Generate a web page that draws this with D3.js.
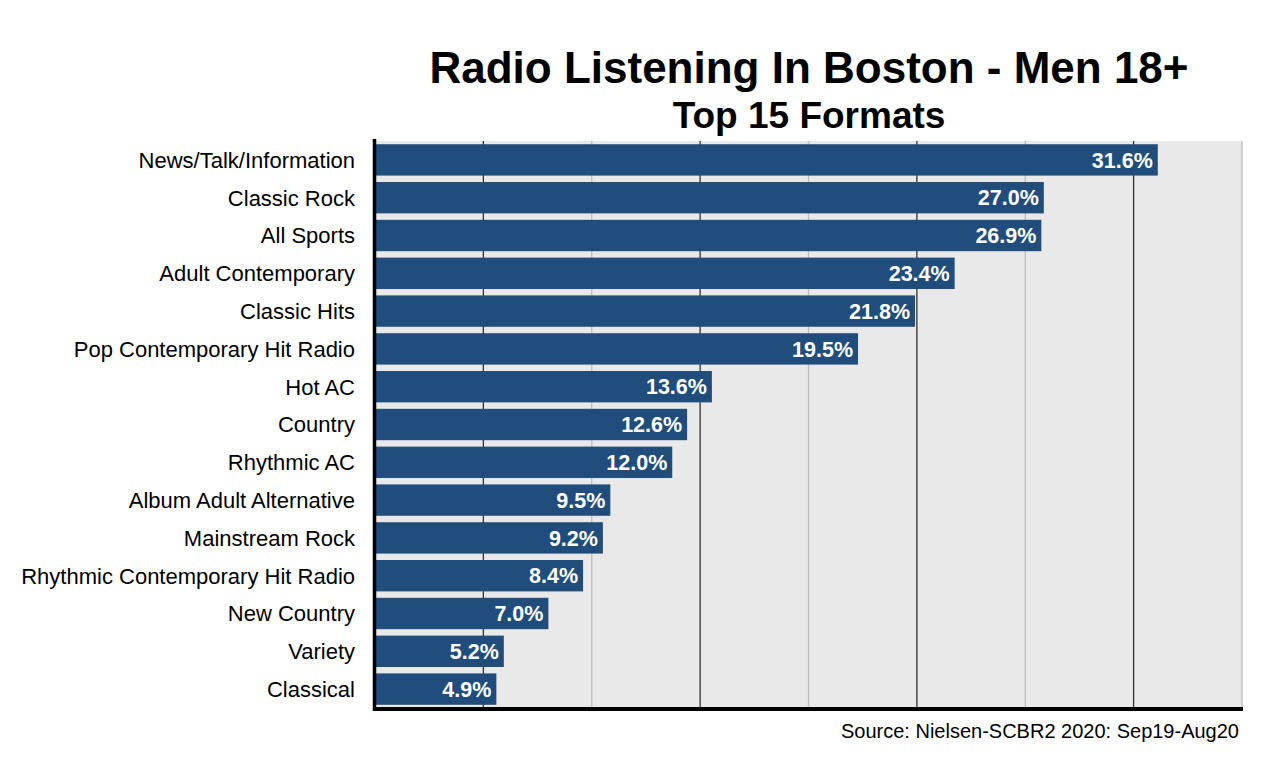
<!DOCTYPE html>
<html><head><meta charset="utf-8">
<script src="https://cdn.jsdelivr.net/npm/d3@7"></script>
<style>html,body{margin:0;padding:0;background:#fff;}svg{display:block;}</style>
</head><body>
<svg id="chart" width="1286" height="764"></svg>
<script>
const categories = ["News/Talk/Information","Classic Rock","All Sports","Adult Contemporary","Classic Hits","Pop Contemporary Hit Radio","Hot AC","Country","Rhythmic AC","Album Adult Alternative","Mainstream Rock","Rhythmic Contemporary Hit Radio","New Country","Variety","Classical"];
const values = [31.6,27.0,26.9,23.4,21.8,19.5,13.6,12.6,12.0,9.5,9.2,8.4,7.0,5.2,4.9];
const axisMax = 35;
const gridTicks = [4.375,8.75,13.125,17.5,21.875,26.25,30.625,35];
const title = "Radio Listening In Boston - Men 18+";
const subtitle = "Top 15 Formats";
const source = "Source: Nielsen-SCBR2 2020: Sep19-Aug20";

const svg = d3.select("#chart");
const font = "'Liberation Sans', Arial, Helvetica, sans-serif";
const L = 375, R = 1242, T = 141, B = 708;
const x = d3.scaleLinear().domain([0, axisMax]).range([L, R]);
const y = d3.scaleBand().domain(categories).range([T, B]).paddingInner(0.17).paddingOuter(0.085);

svg.append("rect").attr("x", L).attr("y", T).attr("width", R - L).attr("height", B - T).attr("fill", "#e9e9e9");

svg.append("g").selectAll("line").data(gridTicks).join("line")
  .attr("x1", d => x(d)).attr("x2", d => x(d))
  .attr("y1", T).attr("y2", B)
  .attr("stroke", (d, i) => i % 2 === 0 ? "#333" : "#bdbdbd")
  .attr("stroke-width", 1.3);

svg.append("g").selectAll("rect").data(values).join("rect")
  .attr("x", x(0))
  .attr("y", (d, i) => y(categories[i]))
  .attr("width", d => x(d) - x(0))
  .attr("height", y.bandwidth())
  .attr("fill", "#204d7b");

svg.append("g").selectAll("text").data(values).join("text")
  .attr("x", d => x(d) - 5)
  .attr("y", (d, i) => y(categories[i]) + y.bandwidth() / 2)
  .attr("dy", "0.36em")
  .attr("text-anchor", "end")
  .attr("fill", "#fff")
  .attr("font-family", font).attr("font-weight", "bold").attr("font-size", 21.5)
  .text(d => d.toFixed(1) + "%");

const yAxis = svg.append("g").attr("transform", `translate(${L - 20},0)`)
  .call(d3.axisLeft(y).tickSize(0).tickPadding(0));
yAxis.select(".domain").remove();
yAxis.selectAll("text").attr("font-family", font).attr("font-size", 22).attr("fill", "#000").attr("dy", "0.36em");

svg.append("line").attr("x1", L - 0.5).attr("x2", L - 0.5).attr("y1", 139).attr("y2", 711)
  .attr("stroke", "#000").attr("stroke-width", 3.5);
svg.append("line").attr("x1", L - 2).attr("x2", R + 1).attr("y1", 709).attr("y2", 709)
  .attr("stroke", "#000").attr("stroke-width", 4);

svg.append("text").attr("x", 809).attr("y", 83).attr("text-anchor", "middle")
  .attr("font-family", font).attr("font-weight", "bold").attr("font-size", 44).attr("fill", "#000")
  .text(title);
svg.append("text").attr("x", 809).attr("y", 128).attr("text-anchor", "middle")
  .attr("font-family", font).attr("font-weight", "bold").attr("font-size", 37).attr("fill", "#000")
  .text(subtitle);
svg.append("text").attr("x", 1239).attr("y", 738).attr("text-anchor", "end")
  .attr("font-family", font).attr("font-size", 20).attr("fill", "#000")
  .text(source);
</script>
</body></html>
